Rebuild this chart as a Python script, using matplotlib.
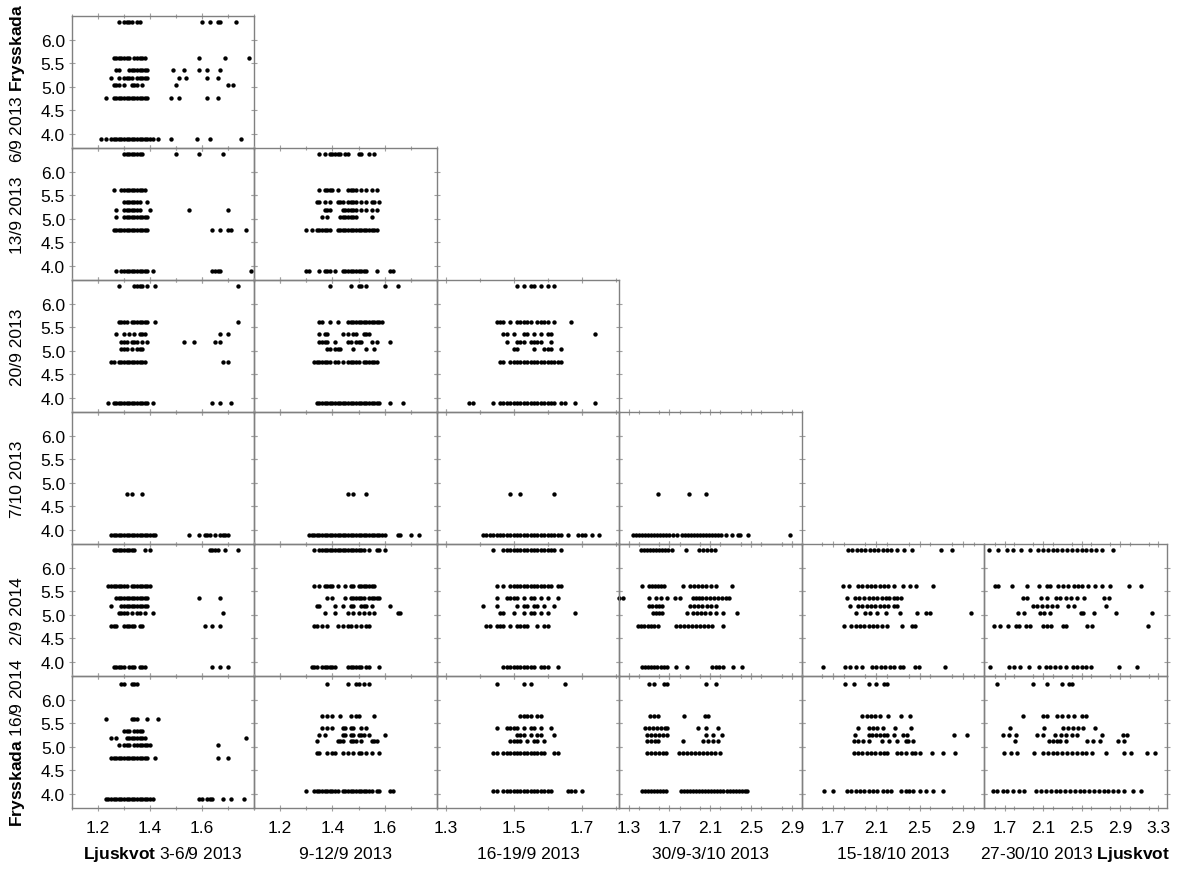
import matplotlib
matplotlib.use('Agg')
import matplotlib.pyplot as plt
from matplotlib.ticker import MultipleLocator

plt.rcParams['font.family'] = ['Liberation Sans', 'DejaVu Sans']
plt.rcParams['mathtext.fontset'] = 'custom'
plt.rcParams['mathtext.rm'] = 'Liberation Sans'
plt.rcParams['mathtext.bf'] = 'Liberation Sans:bold'

# Frysskada (rader) och Ljuskvot (kolumner)
rad_etiketter = [r"6/9 2013 $\mathbf{Frysskada}$", "13/9 2013", "20/9 2013",
                 "7/10 2013", "2/9 2014", r"$\mathbf{Frysskada}$ 16/9 2014"]
kol_etiketter = [r"$\mathbf{Ljuskvot}$ 3-6/9 2013", "9-12/9 2013", "16-19/9 2013",
                 "30/9-3/10 2013", "15-18/10 2013", r"27-30/10 2013 $\mathbf{Ljuskvot}$"]
y_ticks = [4.0, 4.5, 5.0, 5.5, 6.0]
x_ticks = [[1.2, 1.4, 1.6], [1.2, 1.4, 1.6], [1.3, 1.5, 1.7],
           [1.3, 1.7, 2.1, 2.5, 2.9], [1.7, 2.1, 2.5, 2.9], [1.7, 2.1, 2.5, 2.9, 3.3]]

# y-nivåer (frysskada) i varje panel
nivaer = [6.38, 5.62, 5.35, 5.20, 5.05, 4.76, 3.89]
nivaer_r3 = [4.76, 3.89]
nivaer_r5a = [6.34, 5.60, 5.33, 5.18, 5.05, 4.76, 3.89]
nivaer_r5b = [6.34, 5.66, 5.40, 5.26, 5.12, 4.87, 4.06]

# x-värden (ljuskvot * 100), en lista per y-nivå
r0c0 = [[128, 130, 131, 132, 133, 135, 136, 160, 163, 166, 167, 173],
        [126, 127, 128, 129, 130, 131, 132, 134, 135, 136, 137, 138, 159, 169, 178],
        [127, 128, 132, 133, 134, 135, 136, 137, 138, 139, 149, 153, 159, 162, 167],
        [125, 128, 130, 131, 132, 133, 135, 136, 137, 138, 139, 151, 154, 162, 166],
        [126, 127, 128, 130, 133, 134, 135, 137, 150, 170, 172],
        [123, 126, 127, 128, 129, 130, 131, 132, 133, 134, 135, 136, 137, 138, 139, 148, 151, 162, 166],
        [121, 123, 125, 126, 127, 128, 129, 130, 131, 132, 133, 134, 135, 136, 137, 138, 139, 140, 141,
         143, 148, 158, 163, 175]]

r1c0 = [[130, 131, 132, 133, 134, 135, 136, 137, 150, 159, 168],
        [126, 129, 130, 131, 132, 133, 134, 135, 136, 137, 138],
        [130, 131, 132, 133, 134, 135, 136, 139],
        [127, 130, 131, 132, 133, 134, 135, 136, 140, 155, 170],
        [127, 130, 131, 132, 133, 134, 135, 136, 137, 138, 139],
        [126, 127, 128, 129, 130, 131, 132, 133, 134, 135, 136, 137, 138, 139, 164, 167, 170, 171, 177],
        [127, 129, 130, 131, 132, 133, 134, 135, 136, 137, 138, 139, 141, 164, 165, 166, 167, 179]]

r1c1 = [[135, 137, 139, 140, 141, 142, 143, 145, 146, 150, 151, 154, 156],
        [135, 137, 138, 139, 140, 142, 146, 147, 148, 149, 151, 153, 155, 157],
        [134, 135, 137, 139, 142, 143, 144, 146, 147, 148, 149, 151, 153, 155, 156, 158],
        [137, 138, 139, 144, 145, 146, 147, 148, 149, 151, 153, 155, 157],
        [136, 138, 143, 144, 145, 146, 147, 148, 149, 155],
        [130, 132, 134, 135, 136, 137, 138, 139, 142, 143, 144, 145, 146, 147, 148, 149, 150, 151,
         152, 153, 154, 155, 156, 157],
        [130, 131, 135, 137, 138, 139, 141, 144, 145, 146, 147, 148, 149, 150, 151, 152, 153, 157,
         162, 163]]

r2c0 = [[128, 134, 135, 136, 137, 139, 142, 174],
        [128, 129, 130, 131, 133, 134, 135, 136, 137, 138, 139, 142, 174],
        [127, 130, 132, 134, 136, 137, 138, 167, 170],
        [129, 130, 131, 133, 134, 135, 137, 139, 153, 157, 165, 167],
        [129, 130, 131, 133, 135, 136, 137],
        [125, 126, 128, 129, 130, 131, 132, 133, 134, 135, 136, 137, 138, 168, 170],
        [124, 126, 127, 128, 129, 130, 131, 132, 133, 134, 135, 136, 137, 138, 139, 141, 164, 167, 171]]

r2c1 = [[139, 147, 150, 151, 153, 160, 165],
        [135, 136, 139, 142, 146, 147, 148, 149, 150, 151, 152, 153, 154, 155, 156, 157, 158, 159],
        [135, 137, 138, 144, 146, 148, 149, 152, 153, 154],
        [135, 136, 137, 138, 141, 146, 147, 149, 150, 151, 155, 157, 162],
        [138, 139, 141, 142, 143, 148, 153, 156],
        [133, 134, 135, 136, 137, 138, 139, 141, 142, 144, 146, 147, 148, 149, 150, 152, 153, 154,
         155, 156, 157],
        [134, 135, 136, 137, 138, 139, 140, 141, 142, 143, 144, 145, 146, 147, 148, 149, 150, 151,
         152, 153, 154, 155, 156, 157, 158, 162, 167]]

r2c2 = [[151, 153, 155, 156, 158, 160, 162],
        [145, 146, 147, 149, 151, 152, 153, 154, 155, 157, 158, 159, 160, 162, 167],
        [147, 148, 150, 153, 154, 156, 158, 160, 161, 174],
        [148, 151, 152, 153, 155, 156, 157, 158, 161],
        [150, 151, 156, 159, 160, 161, 164],
        [146, 147, 149, 150, 151, 152, 153, 154, 155, 156, 157, 158, 159, 160, 161, 162, 163, 164],
        [137, 138, 144, 146, 147, 148, 149, 150, 151, 152, 153, 154, 155, 156, 157, 158, 159, 160,
         161, 162, 164, 165, 168, 174]]

r3c0 = [[131, 133, 137],
        [125, 126, 127, 128, 129, 130, 131, 132, 133, 134, 135, 136, 137, 138, 139, 140, 141, 142,
         155, 159, 161, 162, 163, 165, 167, 168, 169, 170]]

r3c1 = [[146, 148, 153],
        [131, 132, 133, 134, 135, 136, 137, 138, 139, 140, 141, 142, 143, 144, 145, 146, 147, 148,
         149, 150, 151, 152, 153, 154, 155, 156, 157, 158, 159, 160, 165, 166, 170, 173]]

r3c2 = [[149, 152, 162],
        [141, 142, 143, 144, 145, 146, 147, 148, 149, 150, 151, 152, 153, 154, 155, 156, 157, 158,
         159, 160, 161, 162, 163, 164, 166, 169, 170, 171, 173, 175]]

r3c3 = [[159, 189, 206],
        [134, 137, 140, 143, 146, 149, 152, 155, 158, 161, 164, 167, 170, 173, 177, 182, 185, 188,
         191, 194, 197, 200, 203, 206, 209, 212, 215, 218, 221, 225, 231, 237, 239, 247, 288]]

r4c0 = [[126, 127, 128, 129, 130, 131, 132, 133, 134, 138, 140, 163, 164, 165, 166, 169, 174],
        [124, 125, 126, 127, 128, 129, 130, 131, 133, 134, 135, 136, 137, 138, 139, 140],
        [127, 128, 129, 130, 131, 132, 133, 134, 135, 136, 137, 138, 139, 159, 167],
        [125, 129, 130, 131, 132, 133, 134, 135, 136, 137, 138, 139],
        [128, 129, 130, 131, 133, 135, 136, 138, 141, 168],
        [125, 126, 127, 130, 131, 132, 133, 134, 136, 137, 161, 164, 167],
        [126, 127, 128, 129, 130, 132, 133, 134, 136, 137, 138, 164, 167, 170]]

r4c1 = [[133, 135, 136, 137, 138, 139, 140, 141, 142, 143, 144, 145, 146, 147, 148, 149, 150, 151,
         152, 154, 157, 158, 160],
        [133, 135, 137, 138, 139, 140, 142, 145, 147, 148, 150, 151, 152, 153, 154, 155, 156],
        [138, 140, 145, 147, 148, 149, 150, 151, 152, 154, 155, 156, 157, 158],
        [134, 135, 141, 144, 147, 148, 151, 152, 153, 155, 162],
        [137, 141, 146, 148, 150, 152, 154, 156, 165, 166],
        [133, 134, 136, 138, 142, 144, 146, 147, 149, 151, 153, 154],
        [132, 133, 134, 136, 137, 138, 139, 140, 141, 146, 147, 148, 149, 150, 151, 153, 154, 158]]

r4c2 = [[144, 147, 148, 149, 150, 151, 152, 153, 154, 155, 156, 157, 158, 159, 160, 161, 162, 164],
        [145, 147, 149, 150, 151, 152, 153, 154, 155, 156, 157, 158, 159, 160, 161, 163, 164],
        [145, 148, 149, 150, 151, 153, 155, 156, 158, 160, 163, 181],
        [141, 145, 151, 153, 154, 156, 157, 159, 162],
        [146, 147, 150, 153, 155, 156, 158, 160, 168],
        [142, 143, 145, 146, 147, 149, 151, 152, 153, 154, 157, 159, 160],
        [147, 148, 149, 150, 151, 152, 153, 154, 155, 156, 158, 159, 160, 163]]

r4c3 = [[142, 145, 148, 151, 154, 157, 160, 163, 166, 169, 172, 186, 199, 203, 207, 211, 215],
        [143, 150, 153, 156, 159, 162, 165, 183, 190, 194, 198, 202, 206, 211, 216, 231],
        [124, 150, 157, 162, 168, 175, 180, 193, 196, 199, 202, 206, 210, 214, 218, 222, 225, 228],
        [150, 153, 157, 160, 163, 190, 194, 198, 202, 207, 211, 216],
        [154, 157, 160, 163, 187, 193, 197, 201, 205, 210, 216, 223, 236],
        [139, 142, 145, 149, 152, 155, 159, 176, 180, 184, 188, 192, 196, 200, 204, 208, 212, 223],
        [143, 146, 149, 152, 155, 158, 162, 165, 168, 176, 187, 212, 216, 219, 223, 232, 241]]

r4c4 = [[184, 188, 192, 196, 200, 204, 208, 212, 216, 220, 224, 229, 236, 243, 270, 280],
        [179, 185, 193, 197, 201, 205, 209, 213, 217, 221, 226, 235, 241, 247, 262],
        [183, 190, 194, 199, 203, 207, 211, 215, 219, 222, 226, 229, 233],
        [186, 193, 197, 201, 205, 209, 213, 217, 221, 226, 229],
        [191, 200, 204, 211, 219, 232, 248, 256, 260, 297],
        [180, 187, 191, 195, 199, 203, 207, 211, 215, 220, 234, 243, 246],
        [161, 181, 186, 191, 197, 206, 210, 214, 218, 223, 226, 232, 235, 246, 249, 273]]

r4c5 = [[154, 163, 172, 179, 187, 196, 205, 210, 215, 220, 225, 230, 235, 240, 245, 250, 255, 260,
         265, 271, 283],
        [160, 163, 178, 193, 206, 214, 217, 226, 231, 236, 242, 246, 250, 257, 264, 271, 280, 299, 312],
        [189, 193, 208, 214, 223, 228, 234, 239, 245, 253, 273, 279],
        [199, 204, 209, 214, 219, 224, 236, 242, 275],
        [184, 190, 207, 211, 217, 249, 252, 263, 286, 323],
        [159, 165, 173, 182, 185, 192, 196, 210, 214, 218, 231, 234, 256, 261, 319],
        [155, 175, 180, 186, 195, 206, 213, 217, 222, 228, 234, 241, 245, 251, 255, 260, 289, 308]]

r5c0 = [[129, 130, 133, 134, 135],
        [123, 133, 134, 135, 139, 143],
        [130, 131, 132, 134, 135, 136, 137],
        [125, 127, 131, 132, 133, 134, 135, 136, 137, 138, 177],
        [128, 130, 131, 132, 134, 135, 136, 137, 138, 139, 140, 166],
        [125, 126, 127, 128, 129, 130, 131, 132, 133, 134, 135, 136, 137, 138, 139, 142, 166, 170],
        [123, 124, 125, 126, 127, 128, 129, 130, 131, 132, 133, 134, 135, 136, 137, 138, 139, 140,
         141, 159, 160, 162, 163, 164, 168, 171, 176]]

r5c1 = [[138, 146, 149, 150, 152, 154],
        [136, 138, 140, 143, 147, 149, 150, 156],
        [136, 138, 140, 144, 145, 147, 148, 151, 153],
        [135, 137, 144, 145, 147, 148, 150, 151, 152, 154, 160],
        [134, 142, 143, 144, 147, 148, 149, 151, 155, 156, 157],
        [134, 135, 138, 140, 141, 144, 146, 148, 150, 151, 153, 155, 158],
        [130, 133, 134, 135, 136, 137, 138, 139, 140, 141, 142, 144, 145, 146, 147, 148, 149, 150,
         151, 152, 153, 154, 155, 157, 158, 162, 163]]

r5c2 = [[145, 153, 155, 165],
        [152, 153, 154, 155, 157, 158],
        [145, 148, 149, 150, 151, 153, 155, 156, 158, 161],
        [151, 152, 153, 155, 157, 158, 162],
        [149, 150, 151, 152, 154, 156, 157, 159],
        [144, 145, 147, 148, 149, 150, 151, 152, 153, 154, 155, 156, 157, 158, 159, 162, 163],
        [144, 145, 147, 148, 149, 150, 151, 152, 153, 154, 155, 156, 157, 158, 159, 160, 161,
         166, 167, 168, 170]]

r5c3 = [[150, 155, 165, 168, 206, 216],
        [151, 155, 159, 184, 205, 208],
        [146, 150, 154, 158, 162, 166, 168, 198, 206, 218],
        [148, 152, 156, 160, 164, 168, 206, 213, 222],
        [148, 152, 156, 159, 183, 203, 208, 213, 218],
        [148, 152, 156, 160, 164, 167, 179, 183, 187, 191, 195, 199, 203, 207, 211, 215, 220],
        [143, 146, 149, 152, 155, 158, 161, 164, 167, 181, 184, 187, 190, 193, 196, 199, 202, 205,
         208, 211, 214, 217, 220, 223, 226, 229, 232, 235, 238, 241, 244, 246]]

r5c4 = [[181, 189, 203, 210, 217, 220],
        [197, 201, 205, 209, 213, 221, 233, 241],
        [193, 203, 207, 211, 216, 227, 242],
        [190, 203, 206, 210, 213, 217, 220, 226, 235, 238, 282, 294],
        [189, 193, 198, 203, 215, 222, 229, 237, 239, 244],
        [189, 193, 197, 201, 205, 209, 213, 217, 220, 229, 233, 237, 243, 246, 250, 261, 272, 283],
        [162, 170, 183, 187, 191, 195, 199, 203, 207, 211, 216, 220, 224, 233, 237, 240, 244, 250,
         256, 262, 272]]

r5c5 = [[162, 199, 214, 230, 237, 240],
        [189, 210, 214, 224, 230, 236, 242, 250, 255],
        [176, 211, 231, 236, 241, 246, 252, 264],
        [168, 175, 182, 204, 210, 222, 229, 234, 240, 245, 271, 293, 297],
        [181, 216, 220, 224, 228, 234, 256, 262, 269, 288, 294],
        [169, 177, 183, 201, 210, 215, 220, 225, 230, 235, 240, 245, 250, 255, 261, 276, 294, 302,
         318, 327],
        [158, 162, 168, 172, 179, 185, 190, 203, 208, 213, 218, 223, 228, 233, 238, 243, 248, 253,
         258, 263, 268, 273, 278, 283, 288, 294, 304, 312]]

paneler = {
    (0, 0): (nivaer, r0c0),
    (1, 0): (nivaer, r1c0), (1, 1): (nivaer, r1c1),
    (2, 0): (nivaer, r2c0), (2, 1): (nivaer, r2c1), (2, 2): (nivaer, r2c2),
    (3, 0): (nivaer_r3, r3c0), (3, 1): (nivaer_r3, r3c1), (3, 2): (nivaer_r3, r3c2),
    (3, 3): (nivaer_r3, r3c3),
    (4, 0): (nivaer, r4c0), (4, 1): (nivaer, r4c1), (4, 2): (nivaer, r4c2),
    (4, 3): (nivaer, r4c3), (4, 4): (nivaer, r4c4), (4, 5): (nivaer, r4c5),
    (5, 0): (nivaer_r5a, r5c0), (5, 1): (nivaer_r5b, r5c1), (5, 2): (nivaer_r5b, r5c2),
    (5, 3): (nivaer_r5b, r5c3), (5, 4): (nivaer_r5b, r5c4), (5, 5): (nivaer_r5b, r5c5),
}

# layout (pixlar i 1183x870)
W, H = 1183, 870
kol_gr = [72, 254, 437, 619, 802, 984, 1167]
rad_gr = [17, 149, 281, 413, 545, 677, 809]
x_lims = [(1.10, 1.80), (1.10, 1.80), (1.275, 1.81), (1.205, 3.0), (1.414, 3.094), (1.485, 3.39)]
x_minor = [0.1, 0.1, 0.1, 0.2, 0.2, 0.2]
spine_farg = '#808080'

fig = plt.figure(figsize=(W / 100, H / 100), dpi=100)

for (r, c), (niv, xs) in paneler.items():
    x0, x1 = kol_gr[c], kol_gr[c + 1]
    y0, y1 = rad_gr[r], rad_gr[r + 1]
    ax = fig.add_axes([x0 / W, 1 - y1 / H, (x1 - x0) / W, (y1 - y0) / H])
    for yv, xv in zip(niv, xs):
        ax.scatter([v / 100 for v in xv], [yv] * len(xv), s=10, c='black',
                   linewidths=0, clip_on=False, zorder=3)
    ax.set_xlim(*x_lims[c])
    ax.set_ylim(3.70, 6.51)
    ax.set_xticks(x_ticks[c])
    ax.xaxis.set_minor_locator(MultipleLocator(x_minor[c]))
    ax.set_yticks(y_ticks)
    ax.set_yticklabels([f"{v:.1f}" for v in y_ticks])
    ax.set_xticklabels([f"{v:.1f}" for v in x_ticks[c]])
    ax.tick_params(which='both', direction='inout', length=4, width=0.8, color='#a0a0a0',
                   top=True, right=True, labelsize=12.5)
    ax.tick_params(axis='x', which='minor', length=3)
    ax.tick_params(axis='x', pad=7)
    ax.tick_params(axis='y', pad=3)
    ax.tick_params(labelleft=(c == 0), labelbottom=(r == 5))
    for s in ax.spines.values():
        s.set_color(spine_farg)
        s.set_linewidth(1.0)
    ax.set_facecolor('none')

# etiketter
for r, txt in enumerate(rad_etiketter):
    yc = (rad_gr[r] + rad_gr[r + 1]) / 2
    fig.text(18 / W, 1 - yc / H, txt, rotation=90, ha='center', va='center', fontsize=12.5)

for c, txt in enumerate(kol_etiketter):
    xc = (kol_gr[c] + kol_gr[c + 1]) / 2
    fig.text(xc / W, 1 - 855 / H, txt, ha='center', va='center', fontsize=12.5)

fig.savefig('out.png', dpi=100)
